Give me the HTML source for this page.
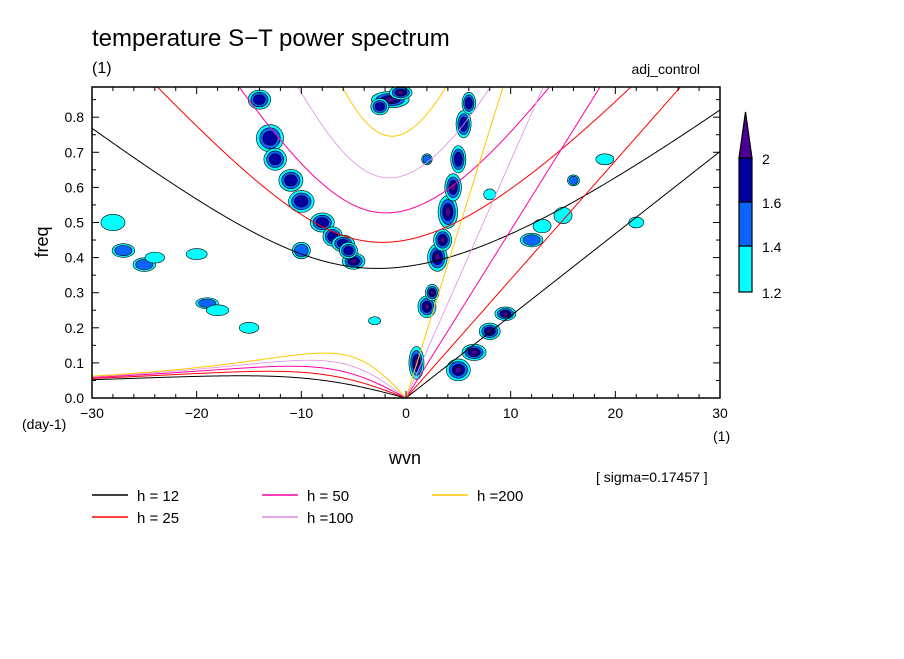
<!DOCTYPE html>
<html><head><meta charset="utf-8"><style>
body{margin:0;background:#fff}
svg text{font-family:"Liberation Sans",sans-serif;fill:#000}
</style></head><body>
<svg id="c" width="904" height="654" viewBox="0 0 904 654" xmlns="http://www.w3.org/2000/svg">
<rect width="904" height="654" fill="#fff"/>
<text x="92" y="46" font-size="24">temperature S−T power spectrum</text>
<text x="92" y="73" font-size="16">(1)</text>
<text x="700" y="74" font-size="14" text-anchor="end">adj_control</text>
<defs><clipPath id="pc"><rect x="92" y="87" width="628" height="311"/></clipPath></defs>
<g id="blobs" clip-path="url(#pc)"></g>
<g id="curves" clip-path="url(#pc)"></g>
<g id="axes"></g>
<rect x="92" y="87" width="628" height="311" fill="none" stroke="#000" stroke-width="1.5"/>
<text x="48" y="242" font-size="18" text-anchor="middle" transform="rotate(-90 48 242)">freq</text>
<text x="405" y="464" font-size="18" text-anchor="middle">wvn</text>
<text x="22" y="429" font-size="14">(day-1)</text>
<text x="713" y="441" font-size="14">(1)</text>
<text x="596" y="482" font-size="14">[ sigma=0.17457 ]</text>
<g id="cbar"></g>
<g id="legend"></g>
</svg>
<script>
const NS="http://www.w3.org/2000/svg";
const xTicks=[-30,-20,-10,0,10,20,30];
const yTicks=[0,0.1,0.2,0.3,0.4,0.5,0.6,0.7,0.8];
const depths=[12,25,50,100,200];
const depthColors=["#000000","#ff0000","#ff00a0","#e08ce0","#ffc800"];
const levelLabels=["1.2","1.4","1.6","2"];
const levelColors=["#00ffff","#0a64ff","#0000a0","#4b0096"];
// blobs: wvn, freq, half-width (wvn), half-height (freq), max level index
const blobWvn=[-1.5,-0.5,-2.5,1,2,2.5,3,3.5,4,4.5,5,5.5,6,-14,-13,-12.5,-11,-10,-8,-7,-6,-5,-5.5,5,6.5,8,9.5,-28,-27,-25,-20,-19,-18,-10,-3,12,13,15,16,19,22,2,8,-24,-15];
const blobFreq=[0.85,0.87,0.83,0.1,0.26,0.3,0.4,0.45,0.53,0.6,0.68,0.78,0.84,0.85,0.74,0.68,0.62,0.56,0.5,0.46,0.44,0.39,0.42,0.08,0.13,0.19,0.24,0.5,0.42,0.38,0.41,0.27,0.25,0.42,0.22,0.45,0.49,0.52,0.62,0.68,0.5,0.68,0.58,0.4,0.2];
const blobRx=[2.5,1.5,1.2,1,1.2,0.9,1.3,1.2,1.3,1.1,1,1,0.9,1.5,1.8,1.5,1.6,1.7,1.6,1.3,1.5,1.5,1.2,1.6,1.6,1.4,1.4,1.6,1.5,1.5,1.4,1.5,1.5,1.2,0.8,1.5,1.2,1.2,0.8,1.2,1,0.7,0.8,1.3,1.3];
const blobRy=[0.03,0.025,0.03,0.06,0.04,0.03,0.05,0.04,0.06,0.05,0.05,0.05,0.04,0.035,0.05,0.04,0.04,0.04,0.035,0.035,0.03,0.03,0.03,0.04,0.03,0.03,0.025,0.03,0.025,0.025,0.02,0.02,0.02,0.03,0.015,0.025,0.025,0.03,0.02,0.02,0.02,0.02,0.02,0.02,0.02];
const blobLvl=[3,3,2,3,3,3,3,3,3,3,2,2,2,2,2,2,2,2,2,2,2,3,2,3,3,3,3,0,1,1,0,1,0,1,0,1,0,0,1,0,0,1,0,0,0];

const X0=92,X1=720,Y0=398,Y1=87,XMIN=-30,XMAX=30,YMIN=0,YMAX=0.886;
const xs=v=>X0+(v-XMIN)/(XMAX-XMIN)*(X1-X0);
const ys=v=>Y0-(v-YMIN)/(YMAX-YMIN)*(Y0-Y1);
function mk(t,a,p){const e=document.createElementNS(NS,t);for(const k in a)e.setAttribute(k,a[k]);p.appendChild(e);return e;}

const bg=document.getElementById('blobs');
for(let i=0;i<blobWvn.length;i++){
  for(let l=0;l<=blobLvl[i];l++){
    const s=1-l*0.24;
    const e=mk('ellipse',{cx:xs(blobWvn[i]),cy:ys(blobFreq[i]),rx:0.72*blobRx[i]*s*(X1-X0)/60,ry:0.78*blobRy[i]*s*(Y0-Y1)/(YMAX-YMIN),fill:levelColors[l],stroke:'#000','stroke-width':0.6},bg);
    
    
  }
}

const beta=2.28e-11,Re=6.371e6,g=9.8,cf=86400/(2*Math.PI);
function roots(k,c){const p=-(c*c*k*k+3*beta*c),q=-beta*c*c*k;const m=2*Math.sqrt(-p/3);
  let a=3*q/(2*p)*Math.sqrt(-3/p);a=Math.max(-1,Math.min(1,a));const th=Math.acos(a)/3;
  return [0,1,2].map(j=>m*Math.cos(th-2*Math.PI*j/3));}
const cg=document.getElementById('curves');
depths.forEach((h,di)=>{
  const c=Math.sqrt(g*h);let ig=[],er=[],kv=[];
  for(let w=-30;w<=30.001;w+=0.1){const k=w/Re;
    const r=roots(k,c).sort((a,b)=>b-a);
    ig.push([xs(w),ys(r[0]*cf)]);
    if(w<-0.05)er.push([xs(w),ys(r[1]*cf)]);
    if(w>=0)kv.push([xs(w),ys(c*k*cf)]);}
  er.push([xs(0),ys(0)]);
  [ig,er,kv].forEach((pts,j)=>{
    const e=mk('polyline',{points:pts.map(p=>p.join(',')).join(' '),fill:'none',stroke:depthColors[di],'stroke-width':h===100?0.8:1},cg);
    
    
  });
});

const ag=document.getElementById('axes');
for(let w=-30;w<=30;w+=2){const big=w%10===0;mk('line',{x1:xs(w),x2:xs(w),y1:Y0,y2:Y0-(big?7:4),stroke:'#000'},ag);mk('line',{x1:xs(w),x2:xs(w),y1:Y1,y2:Y1+(big?7:4),stroke:'#000'},ag);}
for(let f=0;f<=0.88;f+=0.05){const big=Math.abs(f*10-Math.round(f*10))<1e-6;mk('line',{x1:X0,x2:X0+(big?7:4),y1:ys(f),y2:ys(f),stroke:'#000'},ag);mk('line',{x1:X1,x2:X1-(big?7:4),y1:ys(f),y2:ys(f),stroke:'#000'},ag);}
xTicks.forEach(w=>{const t=mk('text',{x:xs(w),y:418,'font-size':14,'text-anchor':'middle'},ag);t.textContent=(w<0?'−':'')+Math.abs(w);
  
  });
yTicks.forEach(f=>{const t=mk('text',{x:84,y:ys(f)+5,'font-size':14,'text-anchor':'end'},ag);t.textContent=f.toFixed(1);
  
  });

const cb=document.getElementById('cbar');
const cbY=[292,246,202,158];
for(let i=0;i<3;i++){const r=mk('rect',{x:739,y:cbY[i+1],width:13,height:cbY[i]-cbY[i+1],fill:levelColors[i],stroke:'#000','stroke-width':1.2},cb);
  
  }
const tri=mk('polygon',{points:'739,158 752,158 745.5,112',fill:levelColors[3],stroke:'#000','stroke-width':1.2},cb);


levelLabels.forEach((s,i)=>{const t=mk('text',{x:762,y:cbY[i]+6,'font-size':14},cb);t.textContent=s;
  
  });

const lg=document.getElementById('legend');
const lx=[92,92,262,262,432],ly=[495,517,495,517,495];
const ltxt=['h = 12','h = 25','h = 50','h =100','h =200'];
depths.forEach((h,i)=>{
  const l=mk('line',{x1:lx[i],x2:lx[i]+36,y1:ly[i],y2:ly[i],stroke:depthColors[i],'stroke-width':1.5},lg);
  
  
  const t=mk('text',{x:lx[i]+45,y:ly[i]+6,'font-size':15},lg);t.textContent=ltxt[i];
  
  
});
</script>
</body></html>
